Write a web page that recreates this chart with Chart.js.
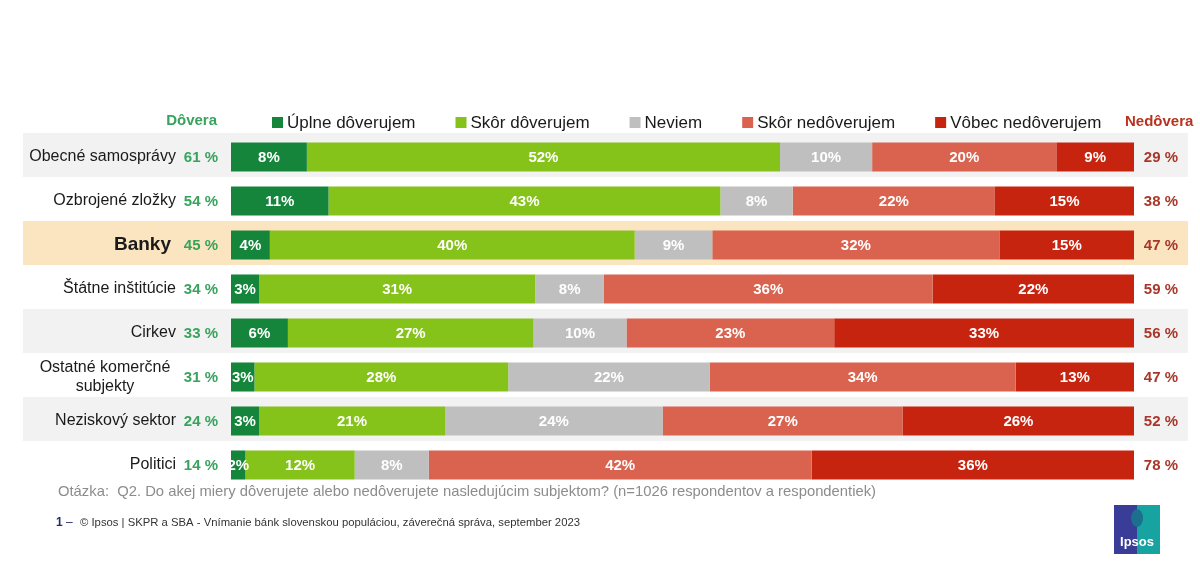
<!DOCTYPE html>
<html>
<head>
<meta charset="utf-8">
<title>Dôvera v subjekty</title>
<script src="https://cdn.jsdelivr.net/npm/chart.js"></script>
<style>
html, body { margin: 0; padding: 0; background: #fff; }
#wrap { position: relative; width: 1200px; height: 567px; }
</style>
</head>
<body>
<div id="wrap"><canvas id="myChart" width="1200" height="567"></canvas></div>
<script>
// data
var categories = ["Obecné samosprávy", "Ozbrojené zložky", "Banky", "Štátne inštitúcie", "Cirkev", ["Ostatné komerčné", "subjekty"], "Neziskový sektor", "Politici"];
var seriesNames = ["Úplne dôverujem", "Skôr dôverujem", "Neviem", "Skôr nedôverujem", "Vôbec nedôverujem"];
var uplneDoverujem = [8.4, 10.8, 4.3, 3.1, 6.3, 2.6, 3.1, 1.6];
var skorDoverujem = [52.4, 43.4, 40.4, 30.6, 27.2, 28.1, 20.6, 12.1];
var neviem = [10.2, 8.0, 8.6, 7.6, 10.3, 22.3, 24.1, 8.2];
var skorNedoverujem = [20.4, 22.4, 31.8, 36.4, 23.0, 33.9, 26.6, 42.4];
var vobecNedoverujem = [8.6, 15.4, 14.9, 22.3, 33.2, 13.1, 25.6, 35.7];
var dovera = [61, 54, 45, 34, 33, 31, 24, 14];
var nedovera = [29, 38, 47, 59, 56, 47, 52, 78];

var colors = ["#14853a", "#85c21a", "#bfbfbf", "#d9634f", "#c72410"];
var bandColors = ["#f2f2f2", null, "#fbe5c1", null, "#f2f2f2", null, "#f2f2f2", null];
var highlight = 2; // Banky

var question = "Otázka:  Q2. Do akej miery dôverujete alebo nedôverujete nasledujúcim subjektom? (n=1026 respondentov a respondentiek)";
var source = "© Ipsos | SKPR a SBA - Vnímanie bánk slovenskou populáciou, záverečná správa, september 2023";

var FONT = "Arial, 'Liberation Sans', sans-serif";

// draws text squeezed/stretched to a given width
function fitText(ctx, text, x, y, w){
    var m = ctx.measureText(text).width;
    ctx.save();
    ctx.translate(x, y);
    ctx.scale(w / m, 1);
    ctx.fillText(text, 0, 0);
    ctx.restore();
}

var extras = {
    id: "extras",
    beforeDatasetsDraw: function(chart){
        var ctx = chart.ctx;
        var y = chart.scales.y;
        ctx.save();
        for (var i = 0; i < categories.length; i++){
            if (!bandColors[i]) continue;
            ctx.fillStyle = bandColors[i];
            ctx.fillRect(23, Math.round(y.getPixelForValue(i)) - 24, 1165, 44);
        }
        ctx.restore();
    },
    afterDatasetsDraw: function(chart){
        var ctx = chart.ctx;
        var area = chart.chartArea;
        var y = chart.scales.y;

        // values inside the bars
        ctx.save();
        ctx.beginPath();
        ctx.rect(area.left, area.top, area.right - area.left, area.bottom - area.top);
        ctx.clip();
        ctx.font = "bold 15px " + FONT;
        ctx.fillStyle = "#ffffff";
        ctx.textAlign = "center";
        ctx.textBaseline = "middle";
        chart.data.datasets.forEach(function(ds, d){
            chart.getDatasetMeta(d).data.forEach(function(bar, i){
                ctx.fillText(Math.round(ds.data[i]) + "%", (bar.x + bar.base) / 2, bar.y + 1);
            });
        });
        ctx.restore();

        ctx.save();
        ctx.textBaseline = "middle";
        for (var i = 0; i < categories.length; i++){
            var cy = y.getPixelForValue(i);
            // category name
            ctx.fillStyle = "#1a1a1a";
            if (i === highlight){
                ctx.font = "bold 19px " + FONT;
                ctx.textAlign = "right";
                ctx.fillText(categories[i], 171, cy);
            } else if (Array.isArray(categories[i])){
                ctx.font = "16px " + FONT;
                ctx.textAlign = "center";
                ctx.fillText(categories[i][0], 105, cy - 9);
                ctx.fillText(categories[i][1], 105, cy + 10);
            } else {
                ctx.font = "16px " + FONT;
                ctx.textAlign = "right";
                ctx.fillText(categories[i], 176, cy);
            }
            // trust / distrust totals
            ctx.font = "bold 15px " + FONT;
            ctx.textAlign = "right";
            ctx.fillStyle = "#37a35c";
            ctx.fillText(dovera[i] + " %", 218, cy + 1);
            ctx.fillStyle = "#a8362a";
            ctx.fillText(nedovera[i] + " %", 1178, cy + 1);
        }

        // headers
        ctx.font = "bold 15px " + FONT;
        ctx.textAlign = "right";
        ctx.fillStyle = "#37a35c";
        ctx.fillText("Dôvera", 217, 121);
        ctx.textAlign = "left";
        ctx.fillStyle = "#b8331f";
        ctx.fillText("Nedôvera", 1125, 122);

        // legend
        ctx.font = "17px " + FONT;
        var lx = 272;
        seriesNames.forEach(function(name, d){
            ctx.fillStyle = colors[d];
            ctx.fillRect(lx, 117, 11, 11);
            ctx.fillStyle = "#1a1a1a";
            ctx.fillText(name, lx + 15, 123);
            lx += 15 + ctx.measureText(name).width + 40;
        });

        // footer
        ctx.fillStyle = "#8c8c8c";
        ctx.font = "15px " + FONT;
        fitText(ctx, question, 58, 492, 818);
        ctx.fillStyle = "#1f2f6b";
        ctx.font = "bold 12px " + FONT;
        ctx.fillText("1", 56, 523);
        ctx.font = "12px " + FONT;
        ctx.fillText("–", 66, 523);
        ctx.fillStyle = "#333333";
        ctx.font = "11px " + FONT;
        fitText(ctx, source, 80, 523, 500);

        // Ipsos logo
        ctx.fillStyle = "#3a3d97";
        ctx.fillRect(1114, 505, 24, 49);
        ctx.fillStyle = "#17a39f";
        ctx.fillRect(1137, 505, 23, 49);
        ctx.fillStyle = "#1b6f8f";
        ctx.beginPath();
        ctx.ellipse(1137, 518, 6, 9, 0, 0, Math.PI * 2);
        ctx.fill();
        ctx.fillStyle = "#ffffff";
        ctx.font = "bold 13px " + FONT;
        ctx.textAlign = "center";
        ctx.fillText("Ipsos", 1137, 542);
        ctx.restore();
    }
};

var myChart = document.getElementById("myChart").getContext("2d");
var chart = new Chart(myChart, {
    type: "bar",
    data: {
        labels: categories,
        datasets: [
            { label: seriesNames[0], data: uplneDoverujem, backgroundColor: colors[0] },
            { label: seriesNames[1], data: skorDoverujem, backgroundColor: colors[1] },
            { label: seriesNames[2], data: neviem, backgroundColor: colors[2] },
            { label: seriesNames[3], data: skorNedoverujem, backgroundColor: colors[3] },
            { label: seriesNames[4], data: vobecNedoverujem, backgroundColor: colors[4] }
        ]
    },
    options: {
        indexAxis: "y",
        responsive: false,
        animation: false,
        datasets: {
            bar: { barPercentage: 0.66, categoryPercentage: 1, borderWidth: 0 }
        },
        layout: {
            padding: { left: 231, right: 66, top: 135, bottom: 80 }
        },
        scales: {
            x: { stacked: true, min: 0, max: 100, display: false },
            y: { stacked: true, display: false }
        },
        plugins: {
            legend: { display: false },
            tooltip: { enabled: false }
        }
    },
    plugins: [extras]
});
</script>
</body>
</html>
